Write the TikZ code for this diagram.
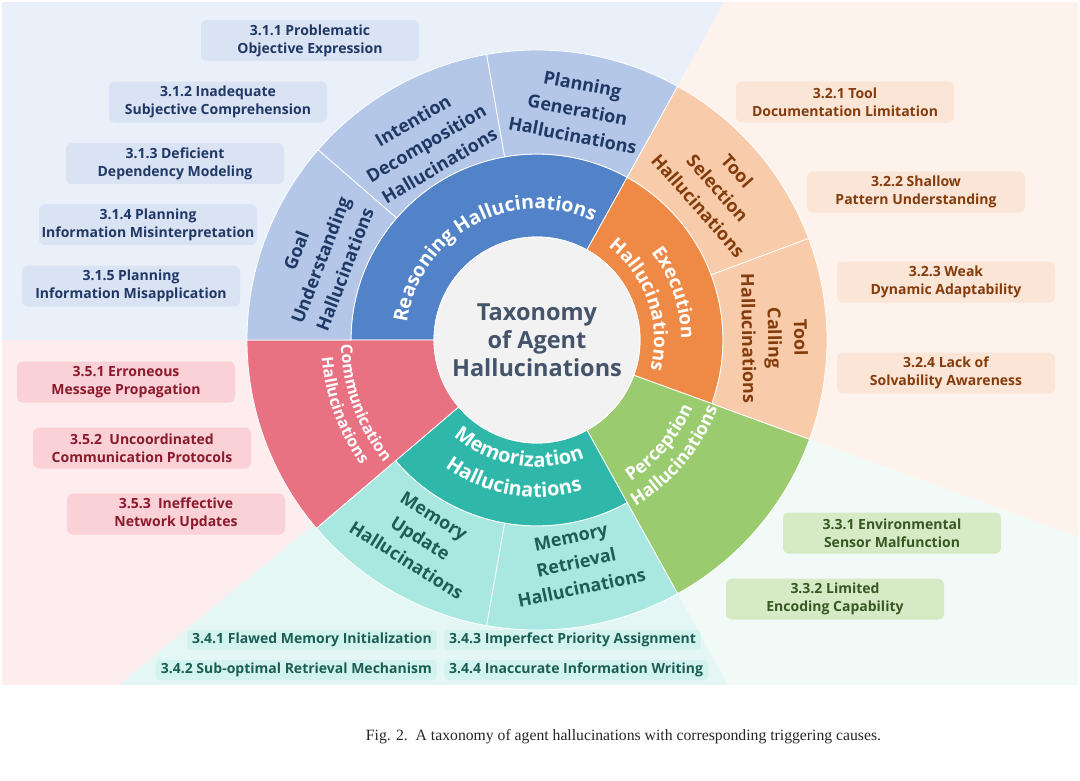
\documentclass[tikz,border=0pt]{standalone}
\usepackage{fontspec}
\usepackage{graphicx}
\newfontfamily\sans{Open Sans}
\newfontfamily\capfont{Liberation Serif}
\usetikzlibrary{decorations.text,calc}

\definecolor{bgBlue}{HTML}{EAF0FA}
\definecolor{bxBlue}{HTML}{DAE3F4}
\definecolor{txBlue}{HTML}{1F3864}
\definecolor{rgBlue}{HTML}{5282C8}
\definecolor{olBlue}{HTML}{B4C7E8}
\definecolor{bgOr}{HTML}{FDF2EC}
\definecolor{bxOr}{HTML}{FBE5D6}
\definecolor{txOr}{HTML}{843C0C}
\definecolor{rgOr}{HTML}{EF8946}
\definecolor{olOr}{HTML}{F8CCAB}
\definecolor{bgGr}{HTML}{F2FAF7}
\definecolor{bxGr}{HTML}{D6EAC5}
\definecolor{txGr}{HTML}{385723}
\definecolor{rgGr}{HTML}{9ACB6E}
\definecolor{bgTe}{HTML}{E4F7F4}
\definecolor{bxTe}{HTML}{D3F3EE}
\definecolor{txTe}{HTML}{1B5E54}
\definecolor{rgTe}{HTML}{2FB8A9}
\definecolor{olTe}{HTML}{A8E8E1}
\definecolor{bgPk}{HTML}{FDEDEE}
\definecolor{bxPk}{HTML}{F9D1D7}
\definecolor{txPk}{HTML}{8A1A2C}
\definecolor{rgPk}{HTML}{E87282}
\definecolor{ctr}{HTML}{F2F2F2}
\definecolor{ctrTx}{HTML}{44546A}

\newcommand{\ringsec}[5]{%
  \fill[#5, draw=white, line width=0.8pt] ($(C)+(#1:#3)$) arc[start angle=#1, end angle=#2, radius=#3pt]
    -- ($(C)+(#2:#4)$) arc[start angle=#2, end angle=#1, radius=#4pt] -- cycle;}
\newcommand{\arctxt}[5]{%
  \path[decorate, decoration={text along path, text align=center, text color=white,
     text={|\sans\bfseries\fontsize{#4}{#4}\selectfont|#5}}]
     ($(C)+(#1:#3)$) arc[start angle=#1, end angle=#2, radius=#3pt];}

\tikzset{
  cbox/.style={rounded corners=6pt, minimum width=218pt, minimum height=41pt, inner sep=0pt,
     align=center, font=\sans\bfseries\fontsize{14}{18}\selectfont},
  bluebox/.style={cbox, fill=bxBlue, text=txBlue},
  orbox/.style={cbox, fill=bxOr, text=txOr},
  grbox/.style={cbox, fill=bxGr, text=txGr},
  pkbox/.style={cbox, fill=bxPk, text=txPk},
  tebox/.style={rounded corners=4pt, fill=bxTe, text=txTe, inner xsep=5pt, inner ysep=0pt,
     minimum height=20pt, font=\sans\bfseries\fontsize{14}{16}\selectfont},
  outlbl/.style={align=center, font=\sans\bfseries\fontsize{18}{26}\selectfont},
}

\begin{document}
\begin{tikzpicture}[x=1pt,y=1pt]
\useasboundingbox (0,0) rectangle (1080,-780);
\fill[white] (0,0) rectangle (1080,-780);
\coordinate (C) at (537,-340);

% background wedges
\begin{scope}
\clip (2,-2) rectangle (1078,-684);
\fill[bgBlue] (C) -- ($(C)+(61:1500)$) -- ($(C)+(120.5:1500)$) -- ($(C)+(180:1500)$) -- cycle;
\fill[bgOr] (C) -- ($(C)+(-20:1500)$) -- ($(C)+(20.5:1500)$) -- ($(C)+(61:1500)$) -- cycle;
\fill[bgGr] (C) -- ($(C)+(-61:1500)$) -- ($(C)+(-20:1500)$) -- cycle;
\fill[bgTe] (C) -- ($(C)+(219.5:1500)$) -- ($(C)+(260:1500)$) -- ($(C)+(299:1500)$) -- cycle;
\fill[bgPk] (C) -- ($(C)+(180:1500)$) -- ($(C)+(219.5:1500)$) -- cycle;
\end{scope}

% rings
\ringsec{61}{180}{103}{186}{rgBlue}
\ringsec{-20}{61}{103}{186}{rgOr}
\ringsec{-61}{-20}{103}{290}{rgGr}
\ringsec{220.5}{299}{103}{186}{rgTe}
\ringsec{180}{220.5}{103}{290}{rgPk}
\ringsec{139}{180}{186}{290}{olBlue}
\ringsec{100}{139}{186}{290}{olBlue}
\ringsec{61}{100}{186}{290}{olBlue}
\ringsec{20.5}{61}{186}{290}{olOr}
\ringsec{-20}{20.5}{186}{290}{olOr}
\ringsec{220.5}{260}{186}{290}{olTe}
\ringsec{260}{299}{186}{290}{olTe}
\fill[ctr, draw=white, line width=0.8pt] (C) circle[radius=103pt];

\node[align=center, text=ctrTx, font=\sans\bfseries\fontsize{23.5}{28}\selectfont] (title) at (C) {Taxonomy\\of Agent\\Hallucinations};

% curved middle labels
\arctxt{178.5}{58.5}{131}{19.5}{Reasoning Hallucinations}
\arctxt{64}{-26}{144}{19}{Execution}
\arctxt{79}{-41}{117}{19}{Hallucinations}
\arctxt{200.5}{320.5}{127}{20}{Memorization}
\arctxt{200.5}{320.5}{157}{20}{Hallucinations}
\arctxt{150}{250}{196}{16}{Communication}
\arctxt{150}{250}{216}{16}{Hallucinations}
\arctxt{-90}{10}{170}{18}{Perception}
\arctxt{-90}{10}{193}{18}{Hallucinations}

% outer labels
\node[outlbl, text=txBlue, rotate=69] (goal) at ($(C)+(159.7:231)$) {Goal\\Understanding\\Hallucinations};
\node[outlbl, text=txBlue, rotate=30.5] (intent) at ($(C)+(119.4:226)$) {Intention\\Decomposition\\Hallucinations};
\node[outlbl, text=txBlue, rotate=-11] (plan) at ($(C)+(80:234)$) {Planning\\Generation\\Hallucinations};
\node[outlbl, text=txOr, rotate=-48.5] (toolsel) at ($(C)+(40:236)$) {Tool\\Selection\\Hallucinations};
\node[outlbl, text=txOr, rotate=-89] (toolcall) at ($(C)+(0.5:238)$) {Tool\\Calling\\Hallucinations};
\node[outlbl, text=txTe, rotate=-32] (memup) at ($(C)+(239.5:230)$) {Memory\\Update\\Hallucinations};
\node[outlbl, text=txTe, rotate=12] (memret) at ($(C)+(280:226)$) {Memory\\Retrieval\\Hallucinations};

% cause boxes
\node[bluebox] (b311) at (310,-40.5) {3.1.1 Problematic\\Objective Expression};
\node[bluebox] (b312) at (218,-102) {3.1.2 Inadequate\\Subjective Comprehension};
\node[bluebox] (b313) at (175,-163.5) {3.1.3 Deficient\\Dependency Modeling};
\node[bluebox] (b314) at (148,-224.5) {3.1.4 Planning\\Information Misinterpretation};
\node[bluebox] (b315) at (131,-286) {3.1.5 Planning\\Information Misapplication};

\node[orbox] (b321) at (845,-102) {3.2.1 Tool\\Documentation Limitation};
\node[orbox] (b322) at (916,-192) {3.2.2 Shallow\\Pattern Understanding};
\node[orbox] (b323) at (946,-282) {3.2.3 Weak\\Dynamic Adaptability};
\node[orbox] (b324) at (946,-373) {3.2.4 Lack of\\Solvability Awareness};

\node[grbox] (b331) at (892,-533) {3.3.1 Environmental\\Sensor Malfunction};
\node[grbox] (b332) at (835,-599) {3.3.2 Limited\\Encoding Capability};

\node[pkbox] (b351) at (126,-382) {3.5.1 Erroneous\\Message Propagation};
\node[pkbox] (b352) at (142,-448) {3.5.2\ \ Uncoordinated\\Communication Protocols};
\node[pkbox] (b353) at (176,-514) {3.5.3\ \ Ineffective\\Network Updates};

\node[tebox, anchor=east] (b341) at (437,-640) {3.4.1 Flawed Memory Initialization};
\node[tebox, anchor=east] (b342) at (437,-670) {3.4.2 Sub-optimal Retrieval Mechanism};
\node[tebox, anchor=west] (b343) at (444,-640) {3.4.3 Imperfect Priority Assignment};
\node[tebox, anchor=west] (b344) at (444,-670) {3.4.4 Inaccurate Information Writing};

% caption
\node[text=black!85] (cap) at (623.5,-737) {\resizebox{515pt}{!}{\capfont Fig. 2.\ \ A taxonomy of agent hallucinations with corresponding triggering causes.}};
\end{tikzpicture}
\end{document}
